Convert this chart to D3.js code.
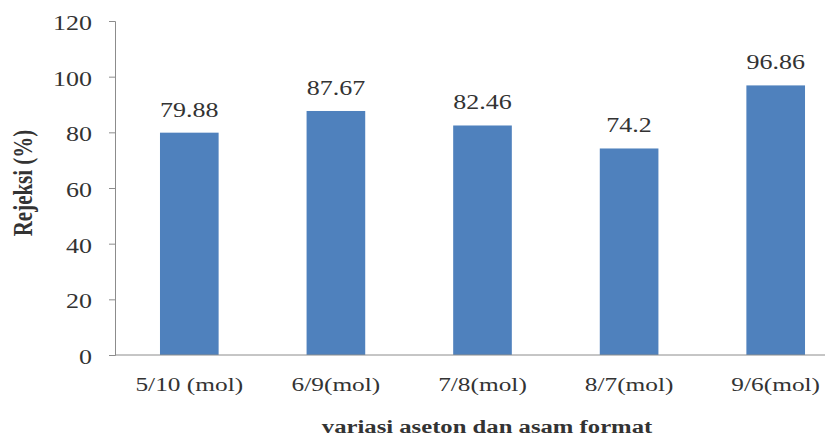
<!DOCTYPE html>
<html>
<head>
<meta charset="utf-8">
<script src="https://cdn.jsdelivr.net/npm/d3@7"></script>
<style>
  html, body { margin: 0; padding: 0; background: #ffffff; }
  svg { display: block; }
  text { font-family: "Liberation Serif", "Times New Roman", serif; }
</style>
</head>
<body>
<svg id="chart" width="825" height="437"></svg>
<script>
// Rejection by acetone / formic acid mole ratio
const categories = ["5/10 (mol)", "6/9(mol)", "7/8(mol)", "8/7(mol)", "9/6(mol)"];
const rejection = [79.88, 87.67, 82.46, 74.2, 96.86];
const valueLabels = ["79.88", "87.67", "82.46", "74.2", "96.86"];
const yTicks = [0, 20, 40, 60, 80, 100, 120];
const yTitle = "Rejeksi (%)";
const xTitle = "variasi aseton dan asam format";

const W = 825, H = 437;
const plot = { left: 116, right: 849, top: 21, bottom: 355 };
const stretch = 1.3;          // wide type face look
const axisColor = "#8c8c8c";
const textColor = "#333333";
const barColor = "#4f81bd";

const svg = d3.select("#chart");

const x = d3.scaleBand()
  .domain(categories)
  .range([plot.left, plot.right])
  .paddingInner(0.6)
  .paddingOuter(0.3);

const y = d3.scaleLinear()
  .domain([0, 120])
  .range([plot.bottom, plot.top]);

// bars
svg.append("g")
  .selectAll("rect")
  .data(categories)
  .join("rect")
  .attr("x", d => x(d))
  .attr("width", x.bandwidth())
  .attr("y", (d, i) => y(rejection[i]))
  .attr("height", (d, i) => y(0) - y(rejection[i]))
  .attr("fill", barColor);

// y axis
const yAxis = svg.append("g")
  .attr("transform", `translate(${plot.left - 1},0)`)
  .call(d3.axisLeft(y).tickValues(yTicks).tickSizeOuter(0).tickSize(6).tickPadding(0));
yAxis.select(".domain").attr("stroke", axisColor);
yAxis.selectAll(".tick line").attr("stroke", axisColor);
yAxis.selectAll(".tick text")
  .attr("fill", textColor)
  .attr("font-size", 20)
  .attr("font-family", "Liberation Serif, serif")
  .attr("text-anchor", "end")
  .attr("x", -23 / stretch)
  .attr("dy", "0.42em")
  .attr("transform", `scale(${stretch},1)`);

// x axis baseline
svg.append("line")
  .attr("x1", plot.left - 1).attr("x2", W)
  .attr("y1", y(0)).attr("y2", y(0))
  .attr("stroke", axisColor);

// stretched text helper
function label(g, tx, ty, str, size, weight, anchor) {
  return g.append("text")
    .attr("transform", `translate(${tx},${ty}) scale(${stretch},1)`)
    .attr("text-anchor", anchor || "middle")
    .attr("font-size", size)
    .attr("font-weight", weight || "normal")
    .attr("fill", textColor)
    .text(str);
}

// category labels
const cat = svg.append("g");
categories.forEach(c => label(cat, x(c) + x.bandwidth() / 2, 391, c, 19.5));

// value labels above bars
const vals = svg.append("g");
categories.forEach((c, i) =>
  label(vals, x(c) + x.bandwidth() / 2, y(rejection[i]) - 16, valueLabels[i], 20));

// axis titles
label(svg, 487, 433, xTitle, 19, "bold");

svg.append("text")
  .attr("transform", `translate(32,183) rotate(-90) scale(1,${stretch})`)
  .attr("text-anchor", "middle")
  .attr("font-size", 21)
  .attr("font-weight", "bold")
  .attr("fill", textColor)
  .text(yTitle);
</script>
</body>
</html>
